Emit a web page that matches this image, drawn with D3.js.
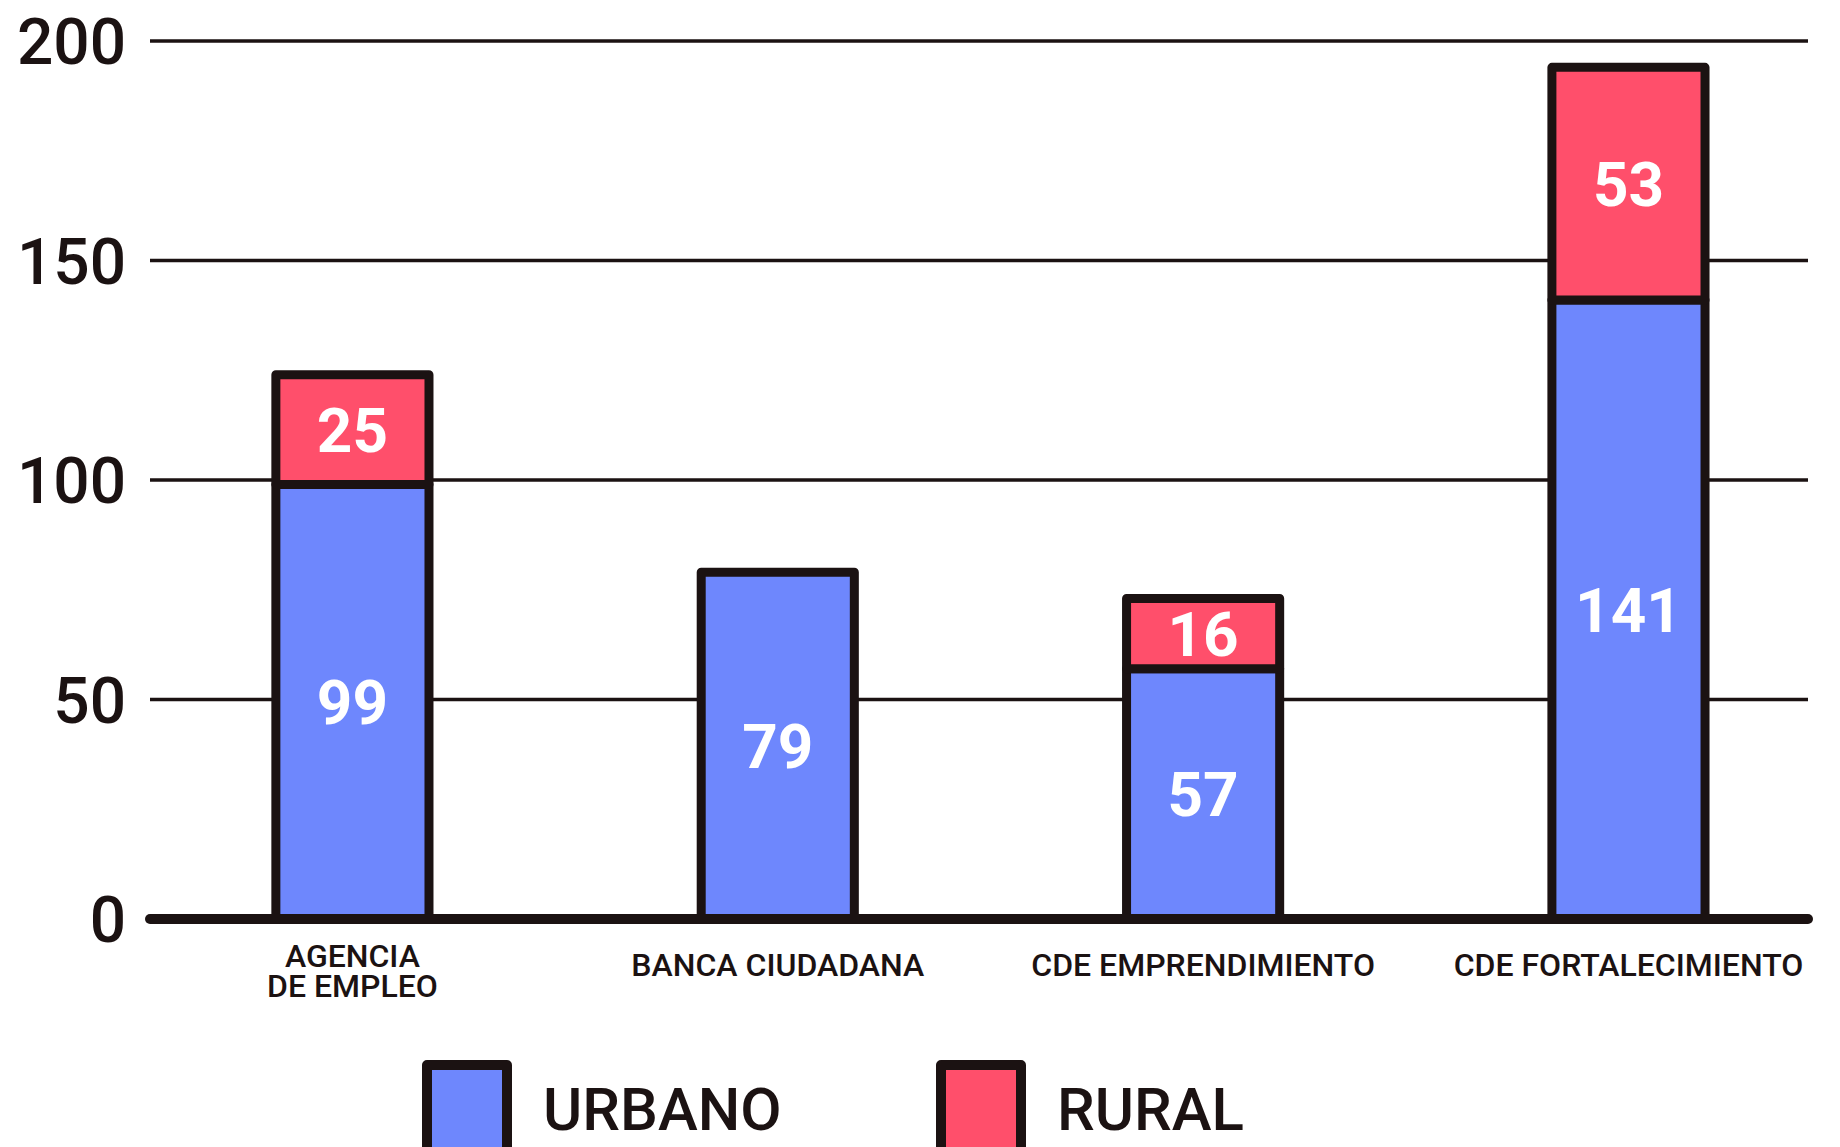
<!DOCTYPE html>
<html lang="es">
<head>
    <meta charset="UTF-8">
    <title>Urbano / Rural</title>
    <script src="https://d3js.org/d3.v7.min.js"></script>
    <style>
        html, body {
            margin: 0;
            padding: 0;
            background: #fff;
        }
        svg text {
            font-family: 'Roboto', sans-serif;
        }
    </style>
</head>
<body>
    <div class="content"></div>
    <script>
        // data
        const categories = [["AGENCIA", "DE EMPLEO"], ["BANCA CIUDADANA"], ["CDE EMPRENDIMIENTO"], ["CDE FORTALECIMIENTO"]];
        const urbano = [99, 79, 57, 141];
        const rural = [25, 0, 16, 53];
        const yTicks = [0, 50, 100, 150, 200];
        const seriesNames = ["URBANO", "RURAL"];

        const w = 1840;
        const h = 1147;
        const ink = "#1b1212";
        const colors = ["#6e87fd", "#ff4f6b"];

        const keys = categories.map(c => c.join(" "));

        const svg = d3.select(".content")
            .append("svg")
            .attr("width", w)
            .attr("height", h);

        const x = d3.scaleBand()
            .domain(keys)
            .range([150, 1808])
            .paddingInner(0.64)
            .paddingOuter(0.269)
            .align(0.55);

        const y = d3.scaleLinear()
            .domain([0, 200])
            .range([919, 41]);

        // gridlines
        svg.selectAll("line.grid")
            .data(yTicks.filter(t => t > 0))
            .enter()
            .append("line")
            .attr("class", "grid")
            .attr("x1", 150)
            .attr("x2", 1808)
            .attr("y1", d => y(d))
            .attr("y2", d => y(d))
            .attr("stroke", ink)
            .attr("stroke-width", 3.5);

        // tick labels
        svg.selectAll("text.tick")
            .data(yTicks)
            .enter()
            .append("text")
            .attr("class", "tick")
            .text(d => d)
            .attr("x", 126)
            .attr("y", d => y(d))
            .attr("dy", "0.36em")
            .attr("text-anchor", "end")
            .attr("font-size", "64px")
            .attr("font-weight", 500)
            .attr("fill", ink);

        // stacked data
        const rows = keys.map((k, i) => ({ key: k, urbano: urbano[i], rural: rural[i] }));
        const stack = d3.stack().keys(["urbano", "rural"])(rows);

        const layers = svg.selectAll("g.layer")
            .data(stack)
            .enter()
            .append("g")
            .attr("class", "layer")
            .attr("fill", (d, i) => colors[i]);

        layers.selectAll("rect")
            .data(d => d.filter(s => s[1] - s[0] > 0))
            .enter()
            .append("rect")
            .attr("x", d => x(d.data.key))
            .attr("y", d => y(d[1]))
            .attr("width", x.bandwidth())
            .attr("height", d => y(d[0]) - y(d[1]))
            .attr("stroke", ink)
            .attr("stroke-width", 9)
            .attr("stroke-linejoin", "round");

        // value labels
        layers.selectAll("text")
            .data(d => d.filter(s => s[1] - s[0] > 0))
            .enter()
            .append("text")
            .text(d => d[1] - d[0])
            .attr("x", d => x(d.data.key) + x.bandwidth() / 2)
            .attr("y", d => (y(d[0]) + y(d[1])) / 2)
            .attr("dy", "0.36em")
            .attr("text-anchor", "middle")
            .attr("font-size", "62px")
            .attr("font-weight", 700)
            .attr("fill", "#fff");

        // baseline
        svg.append("line")
            .attr("x1", 150)
            .attr("x2", 1808)
            .attr("y1", y(0))
            .attr("y2", y(0))
            .attr("stroke", ink)
            .attr("stroke-width", 10)
            .attr("stroke-linecap", "round");

        // category labels
        const cat = svg.selectAll("text.cat")
            .data(categories)
            .enter()
            .append("text")
            .attr("class", "cat")
            .attr("x", (d, i) => x(keys[i]) + x.bandwidth() / 2)
            .attr("y", d => d.length > 1 ? 955 : 964)
            .attr("text-anchor", "middle")
            .attr("font-size", "32px")
            .attr("font-weight", 500)
            .attr("fill", ink);

        cat.selectAll("tspan")
            .data(d => d)
            .enter()
            .append("tspan")
            .attr("x", function () { return d3.select(this.parentNode).attr("x"); })
            .attr("dy", (d, i) => i === 0 ? "0.36em" : "30px")
            .text(d => d);

        // legend
        const legend = svg.selectAll("g.legend")
            .data(seriesNames)
            .enter()
            .append("g")
            .attr("class", "legend")
            .attr("transform", (d, i) => `translate(${427 + i * 514}, 1065)`);

        legend.append("rect")
            .attr("width", 80)
            .attr("height", 100)
            .attr("fill", (d, i) => colors[i])
            .attr("stroke", ink)
            .attr("stroke-width", 10)
            .attr("stroke-linejoin", "round");

        legend.append("text")
            .text(d => d)
            .attr("x", 116)
            .attr("y", 65)
            .attr("font-size", "60px")
            .attr("font-weight", 500)
            .attr("fill", ink);
    </script>
</body>
</html>
